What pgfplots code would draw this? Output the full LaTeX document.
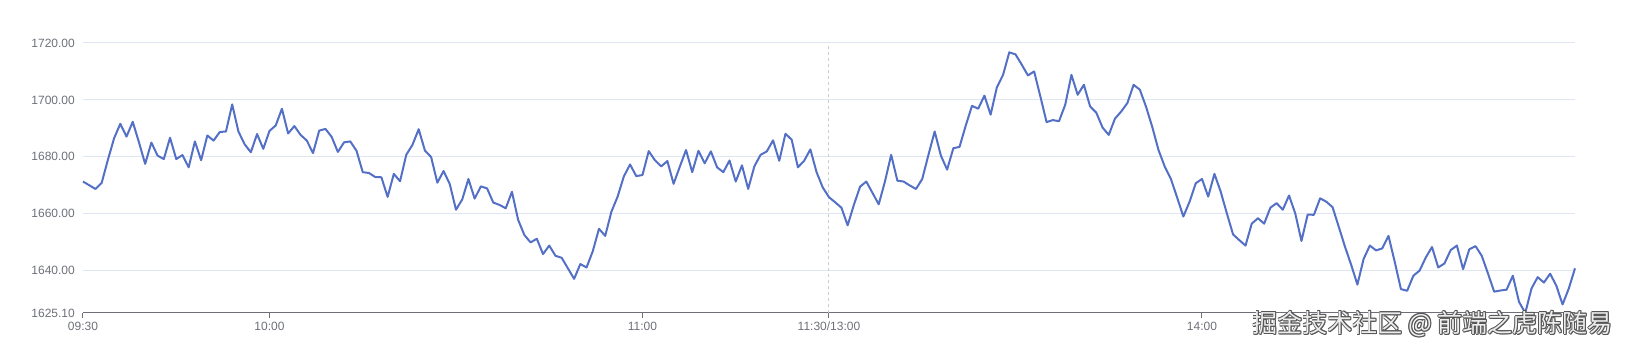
\documentclass[border=0pt]{standalone}
\usepackage{pgfplots}
\pgfplotsset{compat=1.18}
\usepackage{pgfplotstable}
\usepackage{fontspec}
\setmainfont{Liberation Sans}
\newfontfamily\cjk{Noto Sans CJK SC}
\definecolor{axisgray}{HTML}{6E7079}
\definecolor{gridgray}{HTML}{E0E6F1}
\definecolor{lineblue}{HTML}{5470C6}
\definecolor{dashgray}{HTML}{CCCCCC}
\definecolor{wmdark}{HTML}{555555}
\definecolor{wmlight}{HTML}{EDEDED}

\pgfplotstableread{
y
1671.3
1670.0
1668.7
1670.8
1678.9
1686.5
1691.6
1687.1
1692.3
1685.1
1677.5
1685.0
1680.4
1679.2
1686.7
1679.2
1680.6
1676.3
1685.4
1678.8
1687.5
1685.7
1688.7
1688.9
1698.4
1688.9
1684.4
1681.6
1688.0
1682.8
1689.1
1691.0
1696.9
1688.2
1690.8
1687.7
1685.7
1681.3
1689.2
1689.8
1687.0
1681.7
1685.1
1685.4
1682.1
1674.6
1674.3
1672.9
1672.8
1665.9
1674.0
1671.4
1680.7
1684.2
1689.7
1682.2
1679.9
1670.9
1675.0
1670.4
1661.4
1665.0
1672.2
1665.3
1669.6
1668.9
1663.9
1663.1
1661.9
1667.7
1657.8
1652.5
1649.9
1651.2
1645.8
1648.8
1645.2
1644.5
1640.8
1637.1
1642.3
1641.1
1646.8
1654.7
1652.2
1660.7
1666.0
1673.1
1677.3
1673.2
1673.6
1682.0
1678.8
1676.6
1678.5
1670.5
1676.5
1682.4
1674.6
1682.1
1677.7
1681.9
1676.3
1674.6
1678.7
1671.3
1677.0
1668.7
1676.7
1680.7
1681.9
1685.8
1678.6
1688.1
1686.0
1676.3
1678.6
1682.6
1674.6
1669.2
1665.8
1664.0
1662.1
1655.9
1663.1
1669.5
1671.3
1667.3
1663.3
1671.3
1680.7
1671.6
1671.3
1669.9
1668.7
1672.2
1680.7
1688.9
1680.4
1675.5
1683.0
1683.5
1691.0
1697.9
1696.9
1701.5
1694.8
1704.4
1708.8
1716.7
1716.0
1712.4
1708.6
1710.0
1701.2
1692.2
1692.9
1692.5
1698.3
1708.8
1701.8
1705.3
1697.7
1695.5
1690.3
1687.7
1693.4
1695.9
1698.9
1705.3
1703.6
1697.6
1690.5
1682.4
1676.6
1672.2
1665.7
1659.0
1664.2
1670.7
1672.2
1666.0
1674.0
1667.8
1660.1
1652.7
1650.7
1648.8
1656.5
1658.4
1656.5
1662.1
1663.7
1661.4
1666.4
1660.1
1650.4
1659.7
1659.6
1665.4
1664.2
1662.3
1655.4
1648.4
1642.0
1635.1
1644.1
1648.8
1647.1
1647.8
1652.2
1643.1
1633.5
1632.9
1638.2
1640.0
1644.6
1648.3
1641.1
1642.5
1647.2
1648.8
1640.5
1647.5
1648.6
1645.2
1639.0
1632.6
1633.0
1633.3
1638.2
1629.0
1625.1
1633.7
1637.7
1635.8
1638.9
1634.7
1628.1
1633.7
1640.8
}\pricedata

\begin{document}
\begin{tikzpicture}[x=1pt,y=1pt]
\useasboundingbox (-83,-39) rectangle (1544,313);
\begin{axis}[
  at={(0,0)}, anchor=south west,
  scale only axis, width=1492pt, height=270pt,
  xmin=0, xmax=240, ymin=1625.1, ymax=1720,
  axis lines*=left,
  x axis line style={axisgray, line width=1pt},
  y axis line style={draw=none},
  xtick={0,30,90,120,180},
  xticklabels={09:30,10:00,11:00,11:30/13:00,14:00},
  ytick={1625.1,1640,1660,1680,1700,1720},
  yticklabels={1625.10,1640.00,1660.00,1680.00,1700.00,1720.00},
  ymajorgrids,
  grid style={gridgray, line width=1pt},
  tick align=outside,
  major tick length=5pt,
  xtick style={axisgray, line width=1pt},
  ytick style={draw=none},
  ticklabel style={font=\fontsize{12}{14}\selectfont, text=axisgray},
  yticklabel style={anchor=east, inner sep=0pt, xshift=-3pt},
  xticklabel style={anchor=north, inner sep=0pt, yshift=-4pt},
  extra x ticks={120},
  extra x tick labels={},
  extra x tick style={grid=major, major grid style={dashgray, line width=1pt, dash pattern=on 3pt off 3pt}, major tick length=0pt},
  clip=false,
]
\addplot[lineblue, line width=2pt, line join=round, mark=none] table[x expr=\coordindex, y=y] {\pricedata};
\end{axis}
\foreach \dx/\dy in {0.9/0,-0.9/0,0/0.9,0/-0.9,0.7/0.7,-0.7/0.7,0.7/-0.7,-0.7/-0.7} {
  \node[anchor=east, inner sep=0pt, text=wmdark, font=\cjk\fontsize{25}{27}\selectfont] at (1530+\dx,-11+\dy) {掘金技术社区 @ 前端之虎陈随易};
}
\node[anchor=east, inner sep=0pt, text=wmlight, font=\cjk\fontsize{25}{27}\selectfont] at (1530,-11) {掘金技术社区 @ 前端之虎陈随易};
\end{tikzpicture}
\end{document}
